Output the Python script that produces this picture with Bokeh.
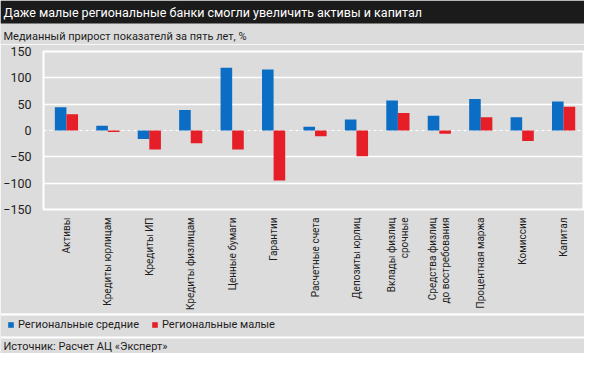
import math
from bokeh.plotting import figure
from bokeh.layouts import column
from bokeh.models import (Range1d, Span, Legend, LegendItem, FixedTicker, Label,
                          BoxAnnotation, ColumnDataSource)
from bokeh.embed import file_html
from bokeh.resources import INLINE

# ---- data ----
categories = ["Активы", "Кредиты юрлицам", "Кредиты ИП", "Кредиты физлицам",
              "Ценные бумаги", "Гарантии", "Расчетные счета", "Депозиты юрлиц",
              "Вклады физлиц\nсрочные", "Средства физлиц\nдо востребования",
              "Процентная маржа", "Комиссии", "Капитал"]
medium = [44, 9, -16, 39, 119, 116, 7, 21, 57, 28, 60, 25, 55]
small = [31, -3, -36, -24, -36, -95, -11, -49, 33, -6, 25, -20, 45]
y_ticks = [-150, -100, -50, 0, 50, 100, 150]
series_names = ["Региональные средние", "Региональные малые"]

title_text = "Даже малые региональные банки смогли увеличить активы и капитал"
subtitle_text = "Медианный прирост показателй за пять лет, %"
source_text = "Источник: Расчет АЦ «Эксперт»"

# ---- style ----
W = 584
BG = "#dcdcdc"
DARK = "#1b1b1b"
BLUE = "#0b6ec4"
RED = "#e61e27"
FONT = "Roboto"
TXT = "#1e1e1e"


def strip(height):
    f = figure(width=W, height=height, output_backend="svg", toolbar_location=None,
               x_range=Range1d(0, W), y_range=Range1d(height, 0),
               x_axis_location=None, y_axis_location=None,
               min_border=0, min_border_left=0, min_border_right=0,
               min_border_top=0, min_border_bottom=0)
    f.frame_align = False
    f.background_fill_color = BG
    f.border_fill_color = BG
    f.outline_line_color = None
    f.grid.visible = False
    return f


def lab(f, x, y, text, size, color):
    f.add_layout(Label(x=x, y=y, text=text, text_baseline="middle",
                       text_align="left", text_color=color, text_font=FONT,
                       text_font_size=size))


def band(f, top, bottom, color):
    f.add_layout(BoxAnnotation(left=0, right=W, top=top, bottom=bottom,
                               fill_color=color, fill_alpha=1, line_color=None))


# ---- header: dark title bar + subtitle ----
head = strip(44)
band(head, 0, 23, DARK)
lab(head, 3, 12, title_text, "12.5px", "white")
lab(head, 3, 36, subtitle_text, "11px", TXT)

# ---- main chart ----
idx = list(range(len(categories)))
bw = 0.28
src = ColumnDataSource(dict(
    xm=[i - bw / 2 for i in idx],
    xs=[i + bw / 2 for i in idx],
    medium=medium,
    small=small,
))

p = figure(width=W, height=269, output_backend="svg", toolbar_location=None,
           x_range=Range1d(-0.554, 12.48), y_range=Range1d(-150, 150),
           min_border_left=42, min_border_right=1, min_border_top=7,
           min_border_bottom=99)
p.frame_align = False
p.background_fill_color = BG
p.border_fill_color = BG
p.outline_line_color = "white"
p.outline_line_width = 2

p.xgrid.visible = False
p.ygrid.ticker = FixedTicker(ticks=[t for t in y_ticks if t != 0])
p.ygrid.grid_line_color = "white"
p.ygrid.grid_line_width = 1.6

p.add_layout(Span(location=0, dimension="width", line_color="white",
                  line_width=1.2, line_dash="3 3", level="underlay"))

r1 = p.vbar(x="xm", top="medium", bottom=0, width=bw, source=src,
            fill_color=BLUE, line_color=None)
r2 = p.vbar(x="xs", top="small", bottom=0, width=bw, source=src,
            fill_color=RED, line_color=None)

p.yaxis.ticker = FixedTicker(ticks=y_ticks)
p.xaxis.ticker = FixedTicker(ticks=idx)
p.xaxis.major_label_overrides = {i: c for i, c in zip(idx, categories)}
p.xaxis.major_label_orientation = math.pi / 2
for ax in (p.xaxis[0], p.yaxis[0]):
    ax.axis_line_color = None
    ax.major_tick_line_color = None
    ax.minor_tick_line_color = None
    ax.major_tick_out = 0
    ax.major_tick_in = 0
    ax.major_label_text_font = FONT
    ax.major_label_text_color = TXT
p.yaxis.major_label_text_font_size = "12.5px"
p.yaxis.major_label_standoff = 12
p.xaxis.major_label_text_font_size = "10px"
p.xaxis.major_label_standoff = 8

# ---- footer: separator, legend, separator, source ----
FH = 40
foot = strip(FH)
band(foot, 0, 2, "white")
band(foot, 23, 25, "white")
# legend swatches come from the same series, drawn on a range outside the view
foot.extra_x_ranges = {"hidden": Range1d(-1000, -999)}
l1 = foot.vbar(x="xm", top="medium", width=bw, source=src, x_range_name="hidden",
               fill_color=BLUE, line_color=None)
l2 = foot.vbar(x="xs", top="small", width=bw, source=src, x_range_name="hidden",
               fill_color=RED, line_color=None)
legend = Legend(items=[LegendItem(label=series_names[0], renderers=[l1]),
                       LegendItem(label=series_names[1], renderers=[l2])],
                orientation="horizontal", location=(7, FH - 18),
                background_fill_alpha=0, border_line_color=None,
                padding=0, margin=0, spacing=12,
                glyph_width=7, glyph_height=7, label_height=12,
                label_standoff=4, label_text_font=FONT,
                label_text_font_size="11px", label_text_color=TXT,
                label_text_baseline="middle")
foot.add_layout(legend)
lab(foot, 3, 32.5, source_text, "11px", TXT)

page = column(head, p, foot, spacing=0)
open("out.html", "w").write(file_html(page, INLINE))
